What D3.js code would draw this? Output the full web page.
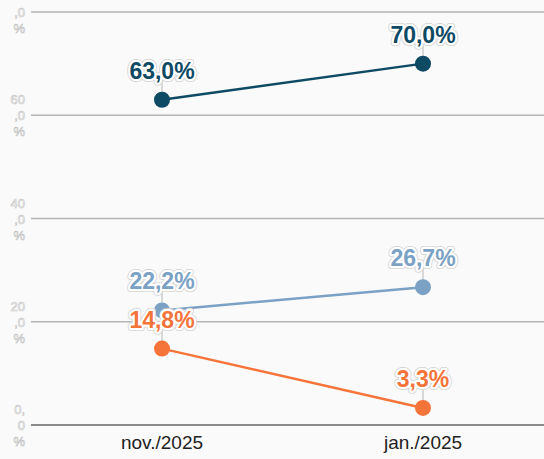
<html>
<script src='https://d3js.org/d3.v7.min.js'></script>
<style>
body {margin:0; background:#fafafa;}
svg {font-family: 'Liberation Sans', Arial, sans-serif; display:block;}
</style>
<body>
<svg width=544 height=459></svg>
<script>
var periods = ['nov./2025', 'jan./2025'];
var serieA = [63.0, 70.0];
var serieB = [22.2, 26.7];
var serieC = [14.8, 3.3];
var cores = ['#0e4a64', '#7ba1c5', '#f5743a'];
var yTicks = [0, 20, 40, 60, 80];

var series = [serieA, serieB, serieC];
var svg = d3.select('svg');

var xs = d3.scalePoint().domain(periods).range([162, 423]);
var ys = d3.scaleLinear().domain([0, 80]).range([425, 12]);

// gridlines
svg.append('g').selectAll('line').data(yTicks).enter().append('line')
  .attr('x1', 31).attr('x2', 544)
  .attr('y1', function(d){return ys(d);}).attr('y2', function(d){return ys(d);})
  .attr('stroke', function(d){return d == 0 ? '#666' : '#b4b4b4';})
  .attr('stroke-width', 1.5);

// y labels, wrapped in three lines
var yl = svg.append('g').selectAll('text').data(yTicks).enter().append('text')
  .attr('text-anchor', 'end')
  .attr('font-size', 13)
  .attr('fill', '#fff').attr('stroke', '#c4c4c4').attr('stroke-width', 0.6);
yl.each(function(d){
  var t = d3.select(this);
  var parts = d == 0 ? ['0,', '0', '%'] : [d + '', ',0', '%'];
  parts.forEach(function(p, i){
    if (ys(d) + 4 + (i - 1) * 16 < 8) return;
    t.append('tspan').attr('x', 25).attr('y', ys(d) + 5 + (i - 1) * 16).text(p);
  });
});

// x labels
svg.append('g').selectAll('text').data(periods).enter().append('text')
  .attr('x', function(d){return xs(d);}).attr('y', 449)
  .attr('text-anchor', 'middle').attr('font-size', 19).attr('fill', '#222')
  .text(function(d){return d;});

var line = d3.line().x(function(d,i){return xs(periods[i]);}).y(function(d){return ys(d);});
var fmt = function(v){return v.toFixed(1).replace('.', ',') + '%';};

series.forEach(function(s, k){
  var g = svg.append('g');
  // leader lines
  g.selectAll('line').data(s).enter().append('line')
    .attr('x1', function(d,i){return xs(periods[i]);}).attr('x2', function(d,i){return xs(periods[i]);})
    .attr('y1', function(d){return ys(d) - 20;}).attr('y2', function(d){return ys(d);})
    .attr('stroke', '#d8d8d8').attr('stroke-width', 2);
  g.append('path').datum(s).attr('d', line)
    .attr('fill', 'none').attr('stroke', cores[k]).attr('stroke-width', 2.5);
  g.selectAll('circle').data(s).enter().append('circle')
    .attr('cx', function(d,i){return xs(periods[i]);}).attr('cy', function(d){return ys(d);})
    .attr('r', 8).attr('fill', cores[k]);
});

series.forEach(function(s, k){
  var g = svg.append('g');
  [['#cfcfcf', 6], ['#fff', 4.5]].forEach(function(st){
    g.append('g').selectAll('text').data(s).enter().append('text')
      .attr('x', function(d,i){return xs(periods[i]);}).attr('y', function(d){return ys(d) - 21;})
      .attr('text-anchor', 'middle').attr('font-size', 23).attr('font-weight', 'bold')
      .attr('fill', 'none').attr('stroke', st[0]).attr('stroke-width', st[1]).attr('stroke-linejoin', 'round')
      .text(fmt);
  });
  g.append('g').selectAll('text').data(s).enter().append('text')
    .attr('x', function(d,i){return xs(periods[i]);}).attr('y', function(d){return ys(d) - 21;})
    .attr('text-anchor', 'middle').attr('font-size', 23).attr('font-weight', 'bold')
    .attr('fill', cores[k])
    .text(fmt);
});
</script>
</body>
</html>
